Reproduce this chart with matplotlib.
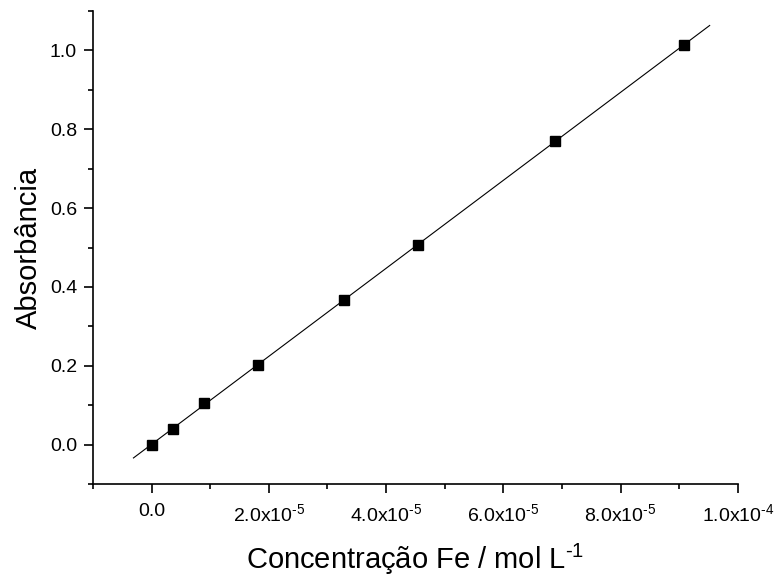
import matplotlib
matplotlib.use('Agg')
import matplotlib.pyplot as plt
import numpy as np
from matplotlib.ticker import MultipleLocator, FuncFormatter

plt.rcParams['font.family'] = ['Liberation Sans', 'DejaVu Sans']
plt.rcParams['mathtext.fontset'] = 'custom'
plt.rcParams['mathtext.rm'] = 'Liberation Sans'
plt.rcParams['mathtext.it'] = 'Liberation Sans'
plt.rcParams['axes.unicode_minus'] = False

# dados da curva de calibração
conc = [0.0, 3.7e-6, 9.0e-6, 1.81e-5, 3.28e-5, 4.54e-5, 6.88e-5, 9.08e-5]
absorb = [0.0, 0.040, 0.105, 0.202, 0.366, 0.507, 0.771, 1.013]

# ajuste linear
coef = np.polyfit(conc, absorb, 1)
x_fit = np.array([-3.1e-6, 9.52e-5])
y_fit = np.polyval(coef, x_fit)

fig = plt.figure(figsize=(7.75, 5.82), dpi=100)
ax = fig.add_axes([0.12, 0.1684, 0.832, 0.8126])

ax.plot(x_fit, y_fit, color='black', lw=0.8)
ax.plot(conc, absorb, 's', color='black', markersize=7)

ax.set_xlim(-1e-5, 1e-4)
ax.set_ylim(-0.1, 1.1)

ax.spines['top'].set_visible(False)
ax.spines['right'].set_visible(False)
for s in ['left', 'bottom']:
    ax.spines[s].set_linewidth(1.2)

ax.xaxis.set_major_locator(MultipleLocator(2e-5))
ax.xaxis.set_minor_locator(MultipleLocator(1e-5))
ax.yaxis.set_major_locator(MultipleLocator(0.2))
ax.yaxis.set_minor_locator(MultipleLocator(0.1))


def fmt_x(v, pos):
    if abs(v) < 1e-12:
        return '0.0'
    e = int(np.floor(np.log10(abs(v))))
    m = v / 10 ** e
    return r'%.1fx10$^{\text{%d}}$' % (m, e)


ax.xaxis.set_major_formatter(FuncFormatter(fmt_x))
ax.yaxis.set_major_formatter(FuncFormatter(lambda v, p: '%.1f' % v))

ax.tick_params(which='major', direction='out', length=6.5, width=1.2, labelsize=14)
ax.tick_params(which='minor', direction='out', length=3.5, width=1.2)
ax.tick_params(axis='x', pad=7)
ax.tick_params(axis='y', pad=5)

ax.set_xlabel(r'Concentração Fe / mol L$^{\text{-1}}$', fontsize=21, labelpad=12)
ax.set_ylabel('Absorbância', fontsize=21, labelpad=5)

fig.savefig('out.png', dpi=100)
